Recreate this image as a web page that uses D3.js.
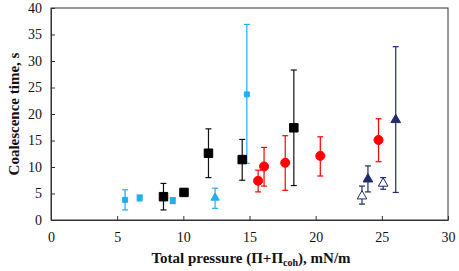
<!DOCTYPE html>
<html>
<head>
<meta charset="utf-8">
<script src="https://cdn.jsdelivr.net/npm/d3@7"></script>
<style>
  body { margin: 0; background: #fff; }
  svg text { font-family: "Liberation Serif", "Times New Roman", serif; }
</style>
</head>
<body>
<svg width="459" height="271"></svg>
<script>
// series: [x, y, lower, upper]
const lightBlue = [
  [5.6, 3.8, 1.9, 5.7],
  [6.7, 4.2, 3.6, 4.7],
  [9.2, 3.7, 3.1, 4.2],
  [14.8, 23.7, 10.7, 36.9]
];
const lightBlueTri = [
  [12.4, 4.2, 2.2, 6.0]
];
const blackSq = [
  [8.5, 4.4, 1.9, 6.9],
  [10.05, 5.2, 4.9, 5.5],
  [11.9, 12.6, 8.0, 17.2],
  [14.45, 11.4, 7.5, 15.2],
  [18.35, 17.4, 6.5, 28.3]
];
const redCirc = [
  [15.65, 7.4, 5.3, 9.4],
  [16.1, 10.1, 6.4, 13.7],
  [17.7, 10.8, 5.6, 15.9],
  [20.35, 12.1, 8.3, 15.7],
  [24.75, 15.1, 11.0, 19.1]
];
const navyTri = [
  [23.5, 4.5, 3.0, 6.4, true],
  [23.95, 7.7, 5.3, 10.2, false],
  [25.1, 6.9, 5.8, 8.0, true],
  [26.05, 18.9, 5.2, 32.7, false]
];
const xTicks = [0, 5, 10, 15, 20, 25, 30];
const yTicks = [0, 5, 10, 15, 20, 25, 30, 35, 40];

const svg = d3.select('svg');
const margin = { top: 8, right: 11, bottom: 51, left: 51 };
const innerWidth = 459 - margin.left - margin.right;
const innerHeight = 271 - margin.top - margin.bottom;

const g = svg.append('g')
  .attr('transform', `translate(${margin.left},${margin.top})`);

const xScale = d3.scaleLinear().domain([0, 30]).range([0, innerWidth]);
const yScale = d3.scaleLinear().domain([0, 40]).range([innerHeight, 0]);

// axes with inner ticks
const xAxisG = g.append('g')
  .attr('transform', `translate(0,${innerHeight})`)
  .call(d3.axisBottom(xScale).tickValues(xTicks).tickSizeInner(-4).tickSizeOuter(0).tickPadding(12));
const yAxisG = g.append('g')
  .call(d3.axisLeft(yScale).tickValues(yTicks).tickSizeInner(-4).tickSizeOuter(0).tickPadding(9));

[xAxisG, yAxisG].forEach(a => {
  a.attr('font-family', '"Liberation Serif", serif').attr('font-size', 14);
  a.selectAll('text').attr('fill', '#111');
  a.selectAll('line, .domain').attr('stroke', '#333');
});

// box
g.append('rect')
  .attr('width', innerWidth).attr('height', innerHeight)
  .attr('fill', 'none').attr('stroke', '#333');

const drawErr = (data, color) => {
  const eg = g.append('g').attr('stroke', color).attr('stroke-width', 1.2);
  data.forEach(d => {
    const x = xScale(d[0]);
    eg.append('line').attr('x1', x).attr('x2', x)
      .attr('y1', yScale(d[2])).attr('y2', yScale(d[3]));
    [d[2], d[3]].forEach(v => {
      eg.append('line').attr('x1', x - 3).attr('x2', x + 3)
        .attr('y1', yScale(v)).attr('y2', yScale(v));
    });
  });
};

const drawSym = (data, type, size, color, fillFn) => {
  g.append('g').selectAll('path')
    .data(data).enter()
    .append('path')
      .attr('d', d3.symbol().type(type).size(size))
      .attr('transform', d => `translate(${xScale(d[0])},${yScale(d[1])})`)
      .attr('fill', fillFn || color)
      .attr('stroke', color)
      .attr('stroke-width', 1);
};

drawErr(lightBlue, '#1CB0EE');
drawErr(lightBlueTri, '#1CB0EE');
drawErr(blackSq, '#111');
drawErr(redCirc, '#FF0000');
drawErr(navyTri, '#1F2C6B');

drawSym(lightBlue, d3.symbolSquare, 25, '#1CB0EE');
drawSym(lightBlueTri, d3.symbolTriangle, 30, '#1CB0EE');
drawSym(blackSq, d3.symbolSquare, 72, '#000');
drawSym(redCirc, d3.symbolCircle, 64, '#FF0000');
drawSym(navyTri, d3.symbolTriangle, 40, '#1F2C6B', d => d[4] ? '#fff' : '#1F2C6B');

// axis titles
const xTitle = svg.append('text')
  .attr('x', 251).attr('y', 263)
  .attr('text-anchor', 'middle')
  .attr('font-size', 15).attr('font-weight', 'bold').attr('fill', '#111');
xTitle.append('tspan').text('Total pressure (Π+Π');
xTitle.append('tspan').attr('font-size', 10).attr('dy', 3).text('coh');
xTitle.append('tspan').attr('dy', -3).text('), mN/m');

svg.append('text')
  .attr('transform', 'translate(19,114) rotate(-90)')
  .attr('text-anchor', 'middle')
  .attr('font-size', 15).attr('font-weight', 'bold').attr('fill', '#111')
  .text('Coalescence time, s');
</script>
</body>
</html>
